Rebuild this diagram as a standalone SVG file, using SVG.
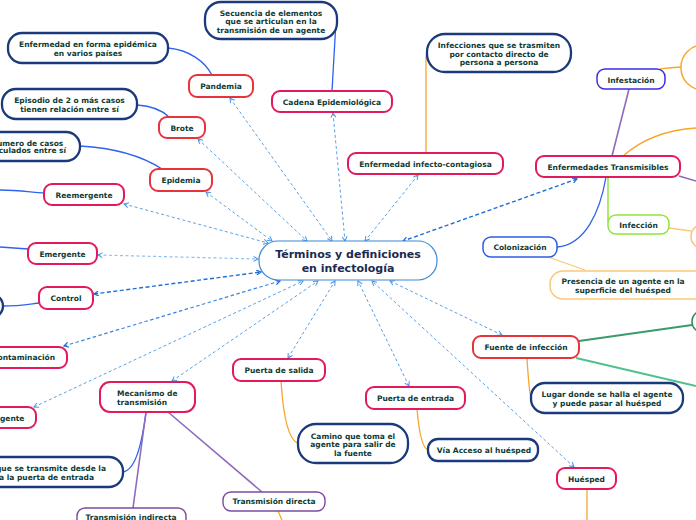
<svg xmlns="http://www.w3.org/2000/svg" width="696" height="520" viewBox="0 0 696 520">
<defs>
<style>
text{font-family:"DejaVu Sans","Verdana",sans-serif;font-weight:bold;font-size:7.5px;fill:#0e3b35;text-anchor:middle}
.t0{font-size:11px;fill:#1b2a4e}
.pk{fill:#fff;stroke:#e2195b;stroke-width:2}
.rd{fill:#fff;stroke:#e8323c;stroke-width:2}
.nv{fill:#fff;stroke:#1b3a7c;stroke-width:2.3}
.cn path{fill:none}
.b{stroke:#2f62f0;stroke-width:1.3}
.p{stroke:#8e6bbd;stroke-width:1.6}
.o{stroke:#f7a62a;stroke-width:1.3}
.po{stroke:#fbc77a;stroke-width:1.3}
.d{stroke:#5aa0e8;stroke-width:1;stroke-dasharray:3 2.5;marker-start:url(#ma);marker-end:url(#ma)}
.dk{stroke:#1f6fd8;stroke-width:1.4;stroke-dasharray:4 2.5;marker-start:url(#mb);marker-end:url(#mb)}
.md{stroke:#3a84e0;stroke-width:1.2;stroke-dasharray:3.5 2.5;marker-start:url(#mb);marker-end:url(#mb)}
.lt{stroke:#8fc0f0;stroke-width:1.2;stroke-dasharray:3 2.5;marker-start:url(#ma);marker-end:url(#ma)}
</style>
<marker id="ma" viewBox="0 0 6 6" refX="5" refY="3" markerWidth="6" markerHeight="6" markerUnits="userSpaceOnUse" orient="auto-start-reverse"><path d="M0.5,0.5 L5,3 L0.5,5.5" fill="none" stroke="#4a94e6" stroke-width="1"/></marker>
<marker id="mb" viewBox="0 0 6 6" refX="5" refY="3" markerWidth="6" markerHeight="6" markerUnits="userSpaceOnUse" orient="auto-start-reverse"><path d="M0.5,0.5 L5,3 L0.5,5.5" fill="none" stroke="#1f6fd8" stroke-width="1.2"/></marker>
</defs>
<rect width="696" height="520" fill="#fff"/>
<g id="connectors" class="cn">
<path class="b" d="M168,48 C190,50 205,62 212,75"/>
<path class="b" d="M137,105 C152,106 162,110 169,117"/>
<path class="b" d="M80,146 C115,148 142,156 162,169"/>
<path class="b" d="M0,190 C20,190 35,193 44,193"/>
<path class="b" d="M0,247 L28,249"/>
<path class="b" d="M3,306 C20,306 30,304 39,303"/>
<path class="b" d="M332,91 L336,21"/>
<path class="b" d="M606,177 C600,212 585,245 557,247"/>
<path class="b" d="M146,413 C142,442 136,470 123,472"/>
<path class="p" d="M629,89 L612,156"/>
<path class="p" d="M679,176 L696,181"/>
<path class="p" d="M146,412 L133,508"/>
<path class="p" d="M168,412 L262,492"/>
<path class="o" d="M426,153 L426,60 Q426,53 428,51"/>
<path class="o" d="M660,69 C668,68 675,67 682,67"/>
<path class="o" d="M623,156 C640,141 665,130 696,128"/>
<path class="o" d="M281,381 C283,412 288,440 298,443"/>
<path class="o" d="M417,409 C419,432 422,448 428,450"/>
<path class="o" d="M527,358 C528,375 529,390 531,398"/>
<path class="o" d="M587,489 L587,520"/>
<path class="o" d="M278,511 L282,520"/>
<path class="po" d="M669,228 L691,231"/>
<path class="po" d="M548,257 L585,270"/>
<path d="M608,177 L608,222" stroke="#8fe63a" stroke-width="1.5"/>
<path d="M579,341 L692,325" stroke="#3a9a6a" stroke-width="2"/>
<path d="M576,358 L696,386" stroke="#4ec28c" stroke-width="2"/>
<path class="d" d="M230,98 L332,241"/>
<path class="d" d="M198,139 L307,241"/>
<path class="d" d="M206,192 L272,241"/>
<path class="d" d="M124,204 L268,243"/>
<path class="d" d="M333,113 L345,241"/>
<path class="d" d="M418,175 L365,241"/>
<path class="dk" d="M577,179 L403,241"/>
<path class="lt" d="M98,255 L258,259"/>
<path class="dk" d="M94,294 L261,272"/>
<path class="md" d="M64,346 L280,281"/>
<path class="d" d="M34,407 L303,281"/>
<path class="d" d="M172,381 L318,281"/>
<path class="d" d="M288,358 L335,281"/>
<path class="d" d="M409,386 L358,281"/>
<path class="d" d="M502,335 L390,281"/>
<path class="d" d="M574,467 L372,281"/>
</g>
<g id="central"><rect x="259" y="241" width="178" height="39" rx="19" fill="#fff" stroke="#3a8ad8" stroke-width="1.2"/><text class="t0" x="348" y="258">Términos y definiciones</text><text class="t0" x="348" y="272">en infectología</text></g>
<g id="pandemia"><rect class="rd" x="189" y="75" width="64" height="22" rx="8"/><text x="221" y="89">Pandemia</text></g>
<g id="brote"><rect class="rd" x="159" y="117" width="46" height="21" rx="8"/><text x="182" y="130.5">Brote</text></g>
<g id="epidemia"><rect class="rd" x="150" y="169" width="62" height="22" rx="8"/><text x="181" y="183">Epidemia</text></g>
<g id="cadena"><rect class="pk" x="272" y="91" width="120" height="21" rx="8"/><text x="332" y="104.5">Cadena Epidemiológica</text></g>
<g id="infecto"><rect class="pk" x="348" y="153" width="155" height="21" rx="8"/><text x="425.5" y="166.5">Enfermedad infecto-contagiosa</text></g>
<g id="transmisibles"><rect class="pk" x="536" y="156" width="144" height="21" rx="8"/><text x="608" y="169.5">Enfermedades Transmisibles</text></g>
<g id="reemergente"><rect class="pk" x="44" y="184" width="80" height="21" rx="8"/><text x="84" y="197.5">Reemergente</text></g>
<g id="emergente"><rect class="pk" x="28" y="243" width="69" height="21" rx="8"/><text x="62.5" y="256.5">Emergente</text></g>
<g id="control"><rect class="pk" x="39" y="287" width="54" height="22" rx="8"/><text x="66" y="301">Control</text></g>
<g id="contaminacion"><rect class="pk" x="-20" y="347" width="87" height="21" rx="8"/><text x="23.5" y="360">Contaminación</text></g>
<g id="agente"><rect class="pk" x="-20" y="407" width="56" height="21" rx="8"/><text x="9.3" y="421">Agente</text></g>
<g id="mecanismo"><rect class="pk" x="100" y="382" width="95" height="30" rx="10"/><text x="117" y="396" style="text-anchor:start">Mecanismo de</text><text x="117" y="405" style="text-anchor:start">transmisión</text></g>
<g id="salida"><rect class="pk" x="233" y="359" width="92" height="22" rx="8"/><text x="279" y="372.7">Puerta de salida</text></g>
<g id="entrada"><rect class="pk" x="366" y="387" width="99" height="22" rx="8"/><text x="415.5" y="400.7">Puerta de entrada</text></g>
<g id="fuente"><rect class="rd" x="473" y="336" width="106" height="22" rx="8"/><text x="526" y="349.7">Fuente de infección</text></g>
<g id="huesped"><rect class="pk" x="557" y="468" width="59" height="21" rx="8"/><text x="586.5" y="481.5">Huésped</text></g>
<g id="secuencia"><rect class="nv" x="205" y="2" width="132" height="37" rx="16"/><text x="271" y="15.5">Secuencia de elementos</text><text x="271" y="24">que se articulan en la</text><text x="271" y="32.5">transmisión de un agente</text></g>
<g id="def-pandemia"><rect class="nv" x="8" y="33" width="160" height="30" rx="14"/><text x="88" y="47">Enfermedad en forma epidémica</text><text x="88" y="55.5">en varios países</text></g>
<g id="def-brote"><rect class="nv" x="2" y="89" width="135" height="30" rx="14"/><text x="69.5" y="103">Episodio de 2 o más casos</text><text x="69.5" y="111.5">tienen relación entre sí</text></g>
<g id="def-epidemia"><rect class="nv" x="-30" y="132" width="110" height="29" rx="14"/><text x="27" y="145.5">Numero de casos</text><text x="26" y="153">vinculados entre sí</text></g>
<g id="def-infecto"><rect class="nv" x="427" y="34" width="144" height="38" rx="18"/><text x="499" y="48">Infecciones que se trasmiten</text><text x="499" y="56.5">por contacto directo de</text><text x="499" y="65">persona a persona</text></g>
<g id="def-fuente"><rect class="nv" x="531" y="383" width="152" height="30" rx="14"/><text x="607" y="396.7">Lugar donde se halla el agente</text><text x="607" y="406">y puede pasar al huésped</text></g>
<g id="def-salida"><rect class="nv" x="298" y="424" width="110" height="39" rx="18"/><text x="353" y="438.7">Camino que toma el</text><text x="353" y="447">agente para salir de</text><text x="353" y="455.5">la fuente</text></g>
<g id="def-entrada"><rect class="nv" x="428" y="439" width="110" height="22" rx="10"/><text x="484" y="452.7">Vía Acceso al huésped</text></g>
<g id="def-mecanismo"><rect class="nv" x="-40" y="457" width="163" height="30" rx="14"/><text x="106" y="471" style="text-anchor:end">Medio por el cual que se transmite desde la</text><text x="94" y="479.5" style="text-anchor:end">salida a la puerta de entrada</text></g>
<g id="def-control"><rect class="nv" x="-100" y="294" width="103" height="24" rx="12"/></g>
<g id="infestacion"><rect x="597" y="69" width="68" height="20" rx="8" fill="#fff" stroke="#3b2fe6" stroke-width="1.5"/><text x="631" y="82.5">Infestación</text></g>
<g id="infeccion"><rect x="608" y="215" width="61" height="19" rx="8" fill="#fff" stroke="#8fe63a" stroke-width="1.5"/><text x="638.5" y="228">Infección</text></g>
<g id="colonizacion"><rect x="483" y="237" width="74" height="20" rx="8" fill="#fff" stroke="#2c5fe6" stroke-width="1.5"/><text x="520" y="250">Colonización</text></g>
<g id="def-colonizacion"><rect x="550" y="271" width="160" height="28" rx="13" fill="#fff" stroke="#fbc77a" stroke-width="1.5"/><text x="623" y="284">Presencia de un agente en la</text><text x="623" y="292.5">superficie del huésped</text></g>
<g id="directa"><rect x="223" y="492" width="102" height="19" rx="8" fill="#fff" stroke="#7c4a9e" stroke-width="1.4"/><text x="274" y="504">Transmisión directa</text></g>
<g id="indirecta"><rect x="77" y="508" width="109" height="22" rx="8" fill="#fff" stroke="#7c4a9e" stroke-width="1.4"/><text x="131" y="520">Transmisión indirecta</text></g>
<g id="right-1"><rect x="681" y="45" width="60" height="45" rx="22" fill="#fff" stroke="#f7a833" stroke-width="1.5"/></g>
<g id="right-2"><rect x="691" y="225" width="50" height="23" rx="11" fill="#fff" stroke="#fac77c" stroke-width="1.5"/></g>
<g id="right-3"><rect x="692" y="311" width="50" height="21" rx="10" fill="#fff" stroke="#2e8b57" stroke-width="1.5"/></g>
</svg>
